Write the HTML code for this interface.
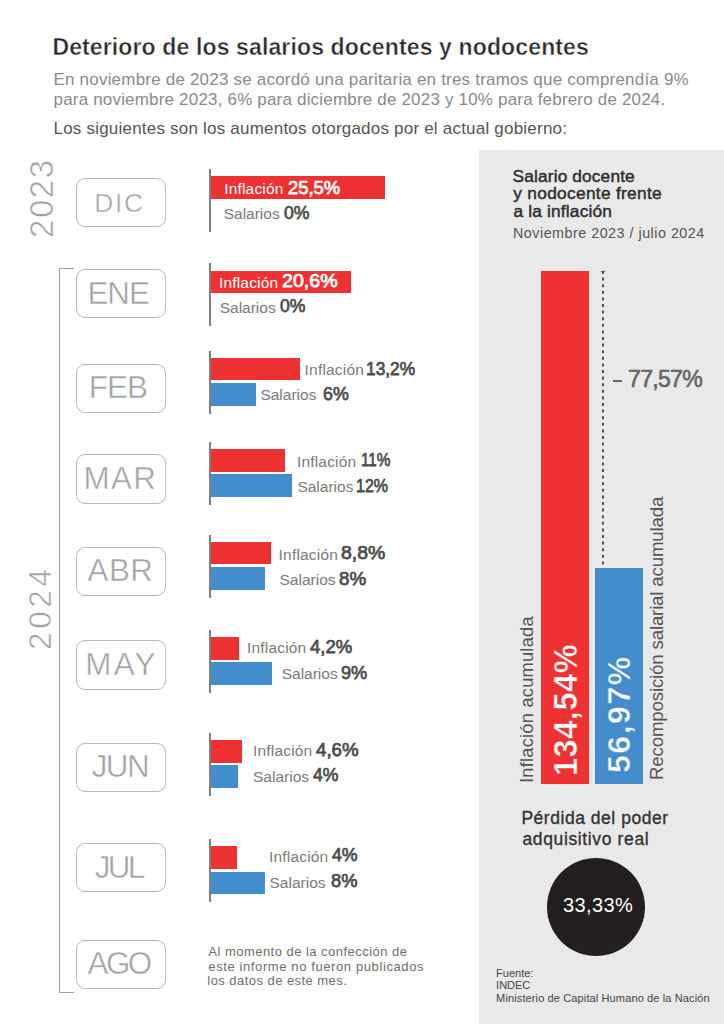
<!DOCTYPE html>
<html><head><meta charset="utf-8"><style>
html,body{margin:0;padding:0;background:#fff;width:724px;height:1024px;overflow:hidden;position:relative}
</style></head><body>
<div style='position:absolute;left:478.6px;top:150.4px;width:246px;height:874px;background:#e9e9e9'></div><div style='position:absolute;left:76px;top:177.6px;width:88.4px;height:47.4px;border:1.8px solid #b8b8b8;border-radius:9px'></div><div style='position:absolute;left:76px;top:269.0px;width:88.4px;height:47.4px;border:1.8px solid #b8b8b8;border-radius:9px'></div><div style='position:absolute;left:76px;top:363.5px;width:88.4px;height:47.4px;border:1.8px solid #b8b8b8;border-radius:9px'></div><div style='position:absolute;left:76px;top:454.4px;width:88.4px;height:47.4px;border:1.8px solid #b8b8b8;border-radius:9px'></div><div style='position:absolute;left:76px;top:546.8px;width:88.4px;height:47.4px;border:1.8px solid #b8b8b8;border-radius:9px'></div><div style='position:absolute;left:76px;top:640.4px;width:88.4px;height:47.4px;border:1.8px solid #b8b8b8;border-radius:9px'></div><div style='position:absolute;left:76px;top:742.7px;width:88.4px;height:47.4px;border:1.8px solid #b8b8b8;border-radius:9px'></div><div style='position:absolute;left:76px;top:842.9px;width:88.4px;height:47.4px;border:1.8px solid #b8b8b8;border-radius:9px'></div><div style='position:absolute;left:76px;top:939.9px;width:88.4px;height:47.4px;border:1.8px solid #b8b8b8;border-radius:9px'></div><div style='position:absolute;left:59px;top:268px;width:14px;height:722.5px;border-left:1.6px solid #a0a0a0;border-top:1.6px solid #a0a0a0;border-bottom:1.6px solid #a0a0a0'></div><div style='position:absolute;left:210px;top:176.2px;width:174.5px;height:22.6px;background:#ee3234'></div><div style='position:absolute;left:209.1px;top:168.9px;width:1.7px;height:63.2px;background:#808080'></div><div style='position:absolute;left:210px;top:270.6px;width:140.5px;height:22.6px;background:#ee3234'></div><div style='position:absolute;left:209.1px;top:263.3px;width:1.7px;height:63.2px;background:#808080'></div><div style='position:absolute;left:210px;top:357.8px;width:90.4px;height:22.6px;background:#ee3234'></div><div style='position:absolute;left:210px;top:383.0px;width:46.3px;height:22.7px;background:#448dcd'></div><div style='position:absolute;left:209.1px;top:350.5px;width:1.7px;height:63.2px;background:#808080'></div><div style='position:absolute;left:210px;top:449.0px;width:75.1px;height:22.6px;background:#ee3234'></div><div style='position:absolute;left:210px;top:474.2px;width:81.8px;height:22.7px;background:#448dcd'></div><div style='position:absolute;left:209.1px;top:441.7px;width:1.7px;height:63.2px;background:#808080'></div><div style='position:absolute;left:210px;top:541.9px;width:60.5px;height:22.6px;background:#ee3234'></div><div style='position:absolute;left:210px;top:567.1px;width:54.7px;height:22.7px;background:#448dcd'></div><div style='position:absolute;left:209.1px;top:534.6px;width:1.7px;height:63.2px;background:#808080'></div><div style='position:absolute;left:210px;top:637.0px;width:28.6px;height:22.6px;background:#ee3234'></div><div style='position:absolute;left:210px;top:662.2px;width:62.0px;height:22.7px;background:#448dcd'></div><div style='position:absolute;left:209.1px;top:629.7px;width:1.7px;height:63.2px;background:#808080'></div><div style='position:absolute;left:210px;top:740.2px;width:31.5px;height:22.6px;background:#ee3234'></div><div style='position:absolute;left:210px;top:765.4px;width:27.5px;height:22.7px;background:#448dcd'></div><div style='position:absolute;left:209.1px;top:732.9px;width:1.7px;height:63.2px;background:#808080'></div><div style='position:absolute;left:210px;top:846.4px;width:27.0px;height:22.6px;background:#ee3234'></div><div style='position:absolute;left:210px;top:871.6px;width:54.7px;height:22.7px;background:#448dcd'></div><div style='position:absolute;left:209.1px;top:839.1px;width:1.7px;height:63.2px;background:#808080'></div><div style='position:absolute;left:541.4px;top:271.2px;width:48px;height:513.2px;background:#ee3234'></div><div style='position:absolute;left:595px;top:567.6px;width:47.8px;height:216.8px;background:#448dcd'></div><svg style='position:absolute;left:0;top:0' width='724' height='1024'><line x1='603' y1='271' x2='603' y2='567' stroke='#4d4d4d' stroke-width='1.9' stroke-dasharray='3 3.6'/><line x1='601' y1='271.5' x2='605' y2='271.5' stroke='#555' stroke-width='1.2'/></svg><div style='position:absolute;left:612.6px;top:380.1px;width:9.4px;height:2.4px;background:#666'></div><div style='position:absolute;left:546.6px;top:858.3px;width:98px;height:97.7px;border-radius:50%;background:#231f20'></div>
<div style='position:absolute;left:52.40px;top:35.53px;font-family:"Liberation Sans", sans-serif;font-size:23px;line-height:23px;font-weight:700;white-space:nowrap;letter-spacing:0.130px;color:#2b2b2b;-webkit-text-stroke:0.4px #fff;'>Deterioro de los salarios docentes y nodocentes</div><div style='position:absolute;left:53.50px;top:70.61px;font-family:"Liberation Sans", sans-serif;font-size:17px;line-height:17px;font-weight:400;white-space:nowrap;letter-spacing:0.201px;color:#8a8a8a;'>En noviembre de 2023 se acordó una paritaria en tres tramos que comprendía 9%</div><div style='position:absolute;left:53.50px;top:90.61px;font-family:"Liberation Sans", sans-serif;font-size:17px;line-height:17px;font-weight:400;white-space:nowrap;letter-spacing:0.185px;color:#8a8a8a;'>para noviembre 2023, 6% para diciembre de 2023 y 10% para febrero de 2024.</div><div style='position:absolute;left:53.50px;top:120.21px;font-family:"Liberation Sans", sans-serif;font-size:17px;line-height:17px;font-weight:400;white-space:nowrap;letter-spacing:0.211px;color:#555555;'>Los siguientes son los aumentos otorgados por el actual gobierno:</div><div style='position:absolute;left:512.60px;top:167.76px;font-family:"Liberation Sans", sans-serif;font-size:17.3px;line-height:17.3px;font-weight:400;white-space:nowrap;letter-spacing:0.143px;color:#2e2e2e;-webkit-text-stroke:0.45px #2e2e2e;'>Salario docente</div><div style='position:absolute;left:513.30px;top:185.26px;font-family:"Liberation Sans", sans-serif;font-size:17.3px;line-height:17.3px;font-weight:400;white-space:nowrap;letter-spacing:0.306px;color:#2e2e2e;-webkit-text-stroke:0.45px #2e2e2e;'>y nodocente frente</div><div style='position:absolute;left:513.50px;top:202.66px;font-family:"Liberation Sans", sans-serif;font-size:17.3px;line-height:17.3px;font-weight:400;white-space:nowrap;letter-spacing:0.177px;color:#2e2e2e;-webkit-text-stroke:0.45px #2e2e2e;'>a la inflación</div><div style='position:absolute;left:513.00px;top:225.80px;font-family:"Liberation Sans", sans-serif;font-size:14.3px;line-height:14.3px;font-weight:400;white-space:nowrap;letter-spacing:0.508px;color:#555555;'>Noviembre 2023 / julio 2024</div><div style='position:absolute;left:628.00px;top:367.83px;font-family:"Liberation Sans", sans-serif;font-size:23px;line-height:23px;font-weight:400;white-space:nowrap;letter-spacing:-0.660px;color:#666666;-webkit-text-stroke:0.6px #666666;'>77,57%</div><div style='position:absolute;left:518.01px;top:782.70px;font-family:"Liberation Sans", sans-serif;font-size:18.3px;line-height:18.3px;font-weight:400;white-space:nowrap;letter-spacing:0.222px;color:#555555;transform-origin:0 0;transform:rotate(-90deg);'>Inflación acumulada</div><div style='position:absolute;left:647.67px;top:779.60px;font-family:"Liberation Sans", sans-serif;font-size:18.7px;line-height:18.7px;font-weight:400;white-space:nowrap;letter-spacing:-0.174px;color:#555555;transform-origin:0 0;transform:rotate(-90deg);'>Recomposición salarial acumulada</div><div style='position:absolute;left:549.69px;top:775.50px;font-family:"Liberation Sans", sans-serif;font-size:32.5px;line-height:32.5px;font-weight:700;white-space:nowrap;letter-spacing:0.550px;color:#ffffff;-webkit-text-stroke:0.5px #ee3234;transform-origin:0 0;transform:rotate(-90deg);'>134,54%</div><div style='position:absolute;left:602.51px;top:773.10px;font-family:"Liberation Sans", sans-serif;font-size:32.0px;line-height:32.0px;font-weight:700;white-space:nowrap;letter-spacing:1.540px;color:#ffffff;-webkit-text-stroke:0.5px #448dcd;transform-origin:0 0;transform:rotate(-90deg);'>56,97%</div><div style='position:absolute;left:521.40px;top:809.59px;font-family:"Liberation Sans", sans-serif;font-size:17.5px;line-height:17.5px;font-weight:400;white-space:nowrap;letter-spacing:0.531px;color:#333333;-webkit-text-stroke:0.35px #333333;'>Pérdida del poder</div><div style='position:absolute;left:522.40px;top:831.19px;font-family:"Liberation Sans", sans-serif;font-size:17.5px;line-height:17.5px;font-weight:400;white-space:nowrap;letter-spacing:0.640px;color:#333333;-webkit-text-stroke:0.35px #333333;'>adquisitivo real</div><div style='position:absolute;left:563.00px;top:895.27px;font-family:"Liberation Sans", sans-serif;font-size:20px;line-height:20px;font-weight:400;white-space:nowrap;letter-spacing:0.400px;color:#ffffff;'>33,33%</div><div style='position:absolute;left:496.10px;top:968.49px;font-family:"Liberation Sans", sans-serif;font-size:11px;line-height:11px;font-weight:400;white-space:nowrap;letter-spacing:0.000px;color:#444444;'>Fuente:</div><div style='position:absolute;left:496.10px;top:980.39px;font-family:"Liberation Sans", sans-serif;font-size:11px;line-height:11px;font-weight:400;white-space:nowrap;letter-spacing:0.000px;color:#444444;'>INDEC</div><div style='position:absolute;left:496.10px;top:992.69px;font-family:"Liberation Sans", sans-serif;font-size:11px;line-height:11px;font-weight:400;white-space:nowrap;letter-spacing:0.125px;color:#444444;'>Ministerio de Capital Humano de la Nación</div><div style='position:absolute;left:25.17px;top:237.70px;font-family:"Liberation Sans", sans-serif;font-size:33px;line-height:33px;font-weight:400;white-space:nowrap;letter-spacing:1.567px;color:#a0a0a0;-webkit-text-stroke:0.6px #fff;transform-origin:0 0;transform:rotate(-90deg);'>2023</div><div style='position:absolute;left:25.44px;top:649.70px;font-family:"Liberation Sans", sans-serif;font-size:31.5px;line-height:31.5px;font-weight:400;white-space:nowrap;letter-spacing:3.667px;color:#a0a0a0;-webkit-text-stroke:0.6px #fff;transform-origin:0 0;transform:rotate(-90deg);'>2024</div><div style='position:absolute;left:94.20px;top:189.95px;font-family:"Liberation Sans", sans-serif;font-size:26.4px;line-height:26.4px;font-weight:400;white-space:nowrap;letter-spacing:1.650px;color:#a2a2a2;-webkit-text-stroke:0.45px #fff;'>DIC</div><div style='position:absolute;left:87.40px;top:278.32px;font-family:"Liberation Sans", sans-serif;font-size:31.4px;line-height:31.4px;font-weight:400;white-space:nowrap;letter-spacing:-1.000px;color:#a2a2a2;-webkit-text-stroke:0.45px #fff;'>ENE</div><div style='position:absolute;left:88.70px;top:372.22px;font-family:"Liberation Sans", sans-serif;font-size:31.4px;line-height:31.4px;font-weight:400;white-space:nowrap;letter-spacing:-0.850px;color:#a2a2a2;-webkit-text-stroke:0.45px #fff;'>FEB</div><div style='position:absolute;left:83.40px;top:463.32px;font-family:"Liberation Sans", sans-serif;font-size:31.4px;line-height:31.4px;font-weight:400;white-space:nowrap;letter-spacing:1.350px;color:#a2a2a2;-webkit-text-stroke:0.45px #fff;'>MAR</div><div style='position:absolute;left:87.60px;top:555.22px;font-family:"Liberation Sans", sans-serif;font-size:31.4px;line-height:31.4px;font-weight:400;white-space:nowrap;letter-spacing:0.450px;color:#a2a2a2;-webkit-text-stroke:0.45px #fff;'>ABR</div><div style='position:absolute;left:85.20px;top:649.22px;font-family:"Liberation Sans", sans-serif;font-size:31.4px;line-height:31.4px;font-weight:400;white-space:nowrap;letter-spacing:2.300px;color:#a2a2a2;-webkit-text-stroke:0.45px #fff;'>MAY</div><div style='position:absolute;left:91.70px;top:751.02px;font-family:"Liberation Sans", sans-serif;font-size:31.4px;line-height:31.4px;font-weight:400;white-space:nowrap;letter-spacing:-1.550px;color:#a2a2a2;-webkit-text-stroke:0.45px #fff;'>JUN</div><div style='position:absolute;left:94.80px;top:851.92px;font-family:"Liberation Sans", sans-serif;font-size:31.4px;line-height:31.4px;font-weight:400;white-space:nowrap;letter-spacing:-2.750px;color:#a2a2a2;-webkit-text-stroke:0.45px #fff;'>JUL</div><div style='position:absolute;left:87.60px;top:948.02px;font-family:"Liberation Sans", sans-serif;font-size:31.4px;line-height:31.4px;font-weight:400;white-space:nowrap;letter-spacing:-2.550px;color:#a2a2a2;-webkit-text-stroke:0.45px #fff;'>AGO</div><div style='position:absolute;left:224.20px;top:181.18px;font-family:"Liberation Sans", sans-serif;font-size:15.5px;line-height:15.5px;font-weight:400;white-space:nowrap;letter-spacing:0.188px;color:#ffffff;'>Inflación</div><div style='position:absolute;left:287.80px;top:178.64px;font-family:"Liberation Sans", sans-serif;font-size:18.5px;line-height:18.5px;font-weight:400;white-space:nowrap;letter-spacing:0.000px;color:#ffffff;-webkit-text-stroke:0.75px #ffffff;transform-origin:0 0;transform:scaleX(0.9942);'>25,5%</div><div style='position:absolute;left:223.70px;top:206.38px;font-family:"Liberation Sans", sans-serif;font-size:15.5px;line-height:15.5px;font-weight:400;white-space:nowrap;letter-spacing:0.000px;color:#7a7a7a;'>Salarios</div><div style='position:absolute;left:284.30px;top:203.84px;font-family:"Liberation Sans", sans-serif;font-size:18.5px;line-height:18.5px;font-weight:400;white-space:nowrap;letter-spacing:0.000px;color:#4d4d4d;-webkit-text-stroke:0.75px #4d4d4d;transform-origin:0 0;transform:scaleX(0.9519);'>0%</div><div style='position:absolute;left:218.90px;top:274.98px;font-family:"Liberation Sans", sans-serif;font-size:15.5px;line-height:15.5px;font-weight:400;white-space:nowrap;letter-spacing:0.188px;color:#ffffff;'>Inflación</div><div style='position:absolute;left:281.50px;top:272.44px;font-family:"Liberation Sans", sans-serif;font-size:18.5px;line-height:18.5px;font-weight:400;white-space:nowrap;letter-spacing:0.000px;color:#ffffff;-webkit-text-stroke:0.75px #ffffff;transform-origin:0 0;transform:scaleX(1.0615);'>20,6%</div><div style='position:absolute;left:219.70px;top:299.88px;font-family:"Liberation Sans", sans-serif;font-size:15.5px;line-height:15.5px;font-weight:400;white-space:nowrap;letter-spacing:0.000px;color:#7a7a7a;'>Salarios</div><div style='position:absolute;left:280.10px;top:297.34px;font-family:"Liberation Sans", sans-serif;font-size:18.5px;line-height:18.5px;font-weight:400;white-space:nowrap;letter-spacing:0.000px;color:#4d4d4d;-webkit-text-stroke:0.75px #4d4d4d;transform-origin:0 0;transform:scaleX(0.9519);'>0%</div><div style='position:absolute;left:304.60px;top:362.18px;font-family:"Liberation Sans", sans-serif;font-size:15.5px;line-height:15.5px;font-weight:400;white-space:nowrap;letter-spacing:0.188px;color:#7a7a7a;'>Inflación</div><div style='position:absolute;left:365.76px;top:359.64px;font-family:"Liberation Sans", sans-serif;font-size:18.5px;line-height:18.5px;font-weight:400;white-space:nowrap;letter-spacing:0.000px;color:#4d4d4d;-webkit-text-stroke:0.75px #4d4d4d;transform-origin:0 0;transform:scaleX(0.9373);'>13,2%</div><div style='position:absolute;left:260.40px;top:387.08px;font-family:"Liberation Sans", sans-serif;font-size:15.5px;line-height:15.5px;font-weight:400;white-space:nowrap;letter-spacing:0.000px;color:#7a7a7a;'>Salarios</div><div style='position:absolute;left:322.90px;top:384.54px;font-family:"Liberation Sans", sans-serif;font-size:18.5px;line-height:18.5px;font-weight:400;white-space:nowrap;letter-spacing:0.000px;color:#4d4d4d;-webkit-text-stroke:0.75px #4d4d4d;transform-origin:0 0;transform:scaleX(0.9630);'>6%</div><div style='position:absolute;left:296.90px;top:453.88px;font-family:"Liberation Sans", sans-serif;font-size:15.5px;line-height:15.5px;font-weight:400;white-space:nowrap;letter-spacing:0.188px;color:#7a7a7a;'>Inflación</div><div style='position:absolute;left:360.87px;top:451.34px;font-family:"Liberation Sans", sans-serif;font-size:18.5px;line-height:18.5px;font-weight:400;white-space:nowrap;letter-spacing:0.000px;color:#4d4d4d;-webkit-text-stroke:0.75px #4d4d4d;transform-origin:0 0;transform:scaleX(0.8257);'>11%</div><div style='position:absolute;left:297.40px;top:479.48px;font-family:"Liberation Sans", sans-serif;font-size:15.5px;line-height:15.5px;font-weight:400;white-space:nowrap;letter-spacing:0.000px;color:#7a7a7a;'>Salarios</div><div style='position:absolute;left:356.04px;top:476.94px;font-family:"Liberation Sans", sans-serif;font-size:18.5px;line-height:18.5px;font-weight:400;white-space:nowrap;letter-spacing:0.000px;color:#4d4d4d;-webkit-text-stroke:0.75px #4d4d4d;transform-origin:0 0;transform:scaleX(0.8639);'>12%</div><div style='position:absolute;left:278.60px;top:546.68px;font-family:"Liberation Sans", sans-serif;font-size:15.5px;line-height:15.5px;font-weight:400;white-space:nowrap;letter-spacing:0.188px;color:#7a7a7a;'>Inflación</div><div style='position:absolute;left:341.30px;top:544.14px;font-family:"Liberation Sans", sans-serif;font-size:18.5px;line-height:18.5px;font-weight:400;white-space:nowrap;letter-spacing:0.000px;color:#4d4d4d;-webkit-text-stroke:0.75px #4d4d4d;transform-origin:0 0;transform:scaleX(1.0500);'>8,8%</div><div style='position:absolute;left:279.50px;top:572.28px;font-family:"Liberation Sans", sans-serif;font-size:15.5px;line-height:15.5px;font-weight:400;white-space:nowrap;letter-spacing:0.000px;color:#7a7a7a;'>Salarios</div><div style='position:absolute;left:339.20px;top:569.74px;font-family:"Liberation Sans", sans-serif;font-size:18.5px;line-height:18.5px;font-weight:400;white-space:nowrap;letter-spacing:0.000px;color:#4d4d4d;-webkit-text-stroke:0.75px #4d4d4d;transform-origin:0 0;transform:scaleX(1.0148);'>8%</div><div style='position:absolute;left:247.00px;top:640.28px;font-family:"Liberation Sans", sans-serif;font-size:15.5px;line-height:15.5px;font-weight:400;white-space:nowrap;letter-spacing:0.188px;color:#7a7a7a;'>Inflación</div><div style='position:absolute;left:310.00px;top:637.74px;font-family:"Liberation Sans", sans-serif;font-size:18.5px;line-height:18.5px;font-weight:400;white-space:nowrap;letter-spacing:0.000px;color:#4d4d4d;-webkit-text-stroke:0.75px #4d4d4d;'>4,2%</div><div style='position:absolute;left:281.70px;top:666.18px;font-family:"Liberation Sans", sans-serif;font-size:15.5px;line-height:15.5px;font-weight:400;white-space:nowrap;letter-spacing:0.000px;color:#7a7a7a;'>Salarios</div><div style='position:absolute;left:341.30px;top:663.64px;font-family:"Liberation Sans", sans-serif;font-size:18.5px;line-height:18.5px;font-weight:400;white-space:nowrap;letter-spacing:0.000px;color:#4d4d4d;-webkit-text-stroke:0.75px #4d4d4d;transform-origin:0 0;transform:scaleX(0.9815);'>9%</div><div style='position:absolute;left:253.00px;top:743.18px;font-family:"Liberation Sans", sans-serif;font-size:15.5px;line-height:15.5px;font-weight:400;white-space:nowrap;letter-spacing:0.188px;color:#7a7a7a;'>Inflación</div><div style='position:absolute;left:315.50px;top:740.64px;font-family:"Liberation Sans", sans-serif;font-size:18.5px;line-height:18.5px;font-weight:400;white-space:nowrap;letter-spacing:0.000px;color:#4d4d4d;-webkit-text-stroke:0.75px #4d4d4d;transform-origin:0 0;transform:scaleX(1.0119);'>4,6%</div><div style='position:absolute;left:253.00px;top:768.58px;font-family:"Liberation Sans", sans-serif;font-size:15.5px;line-height:15.5px;font-weight:400;white-space:nowrap;letter-spacing:0.000px;color:#7a7a7a;'>Salarios</div><div style='position:absolute;left:313.30px;top:766.04px;font-family:"Liberation Sans", sans-serif;font-size:18.5px;line-height:18.5px;font-weight:400;white-space:nowrap;letter-spacing:0.000px;color:#4d4d4d;-webkit-text-stroke:0.75px #4d4d4d;transform-origin:0 0;transform:scaleX(0.9481);'>4%</div><div style='position:absolute;left:269.00px;top:848.88px;font-family:"Liberation Sans", sans-serif;font-size:15.5px;line-height:15.5px;font-weight:400;white-space:nowrap;letter-spacing:0.188px;color:#7a7a7a;'>Inflación</div><div style='position:absolute;left:332.20px;top:846.34px;font-family:"Liberation Sans", sans-serif;font-size:18.5px;line-height:18.5px;font-weight:400;white-space:nowrap;letter-spacing:0.000px;color:#4d4d4d;-webkit-text-stroke:0.75px #4d4d4d;transform-origin:0 0;transform:scaleX(0.9556);'>4%</div><div style='position:absolute;left:269.50px;top:874.68px;font-family:"Liberation Sans", sans-serif;font-size:15.5px;line-height:15.5px;font-weight:400;white-space:nowrap;letter-spacing:0.000px;color:#7a7a7a;'>Salarios</div><div style='position:absolute;left:331.30px;top:872.14px;font-family:"Liberation Sans", sans-serif;font-size:18.5px;line-height:18.5px;font-weight:400;white-space:nowrap;letter-spacing:0.000px;color:#4d4d4d;-webkit-text-stroke:0.75px #4d4d4d;transform-origin:0 0;transform:scaleX(0.9889);'>8%</div><div style='position:absolute;left:208.30px;top:944.90px;font-family:"Liberation Sans", sans-serif;font-size:13px;line-height:13px;font-weight:400;white-space:nowrap;letter-spacing:0.472px;color:#6e6e6e;'>Al momento de la confección de</div><div style='position:absolute;left:208.30px;top:959.80px;font-family:"Liberation Sans", sans-serif;font-size:13px;line-height:13px;font-weight:400;white-space:nowrap;letter-spacing:0.606px;color:#6e6e6e;'>este informe no fueron publicados</div><div style='position:absolute;left:207.30px;top:973.70px;font-family:"Liberation Sans", sans-serif;font-size:13px;line-height:13px;font-weight:400;white-space:nowrap;letter-spacing:0.452px;color:#6e6e6e;'>los datos de este mes.</div>
</body></html>
